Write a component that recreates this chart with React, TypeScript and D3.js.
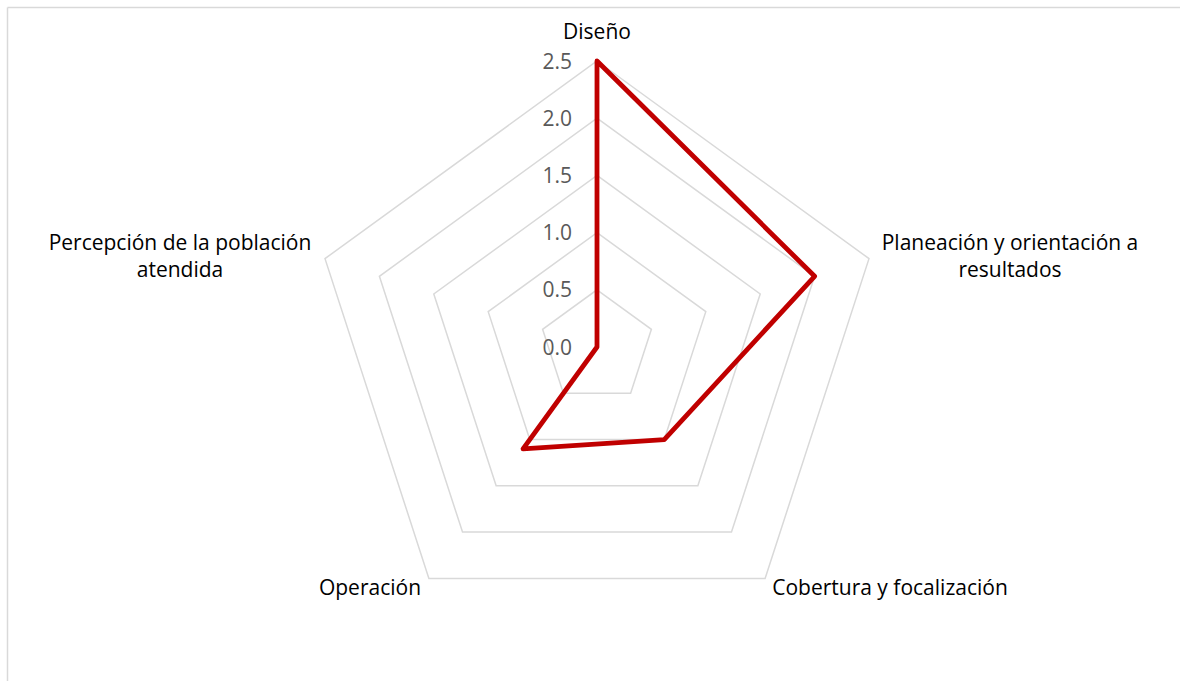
import React from "react";
import * as d3 from "d3";

const CATEGORIES = [
  ["Diseño"],
  ["Planeación y orientación a", "resultados"],
  ["Cobertura y focalización"],
  ["Operación"],
  ["Percepción de la población", "atendida"],
];
const VALUES = [2.5, 2.0, 1.0, 1.1, 0];
const TICKS = [0, 0.5, 1.0, 1.5, 2.0, 2.5];

const WIDTH = 1180;
const HEIGHT = 681;
const CX = 597;
const CY = 347;
const RADIUS = 286;
const FONT = "'Open Sans', Lato, sans-serif";

// label anchor positions (centre x, first baseline y)
const LABEL_POS: [number, number][] = [
  [597, 39],
  [1010, 250],
  [890, 595],
  [370, 595],
  [180, 250],
];

export default function App() {
  const r = d3.scaleLinear().domain([0, 2.5]).range([0, RADIUS]);
  const angle = (i: number) => -Math.PI / 2 + (i * 2 * Math.PI) / CATEGORIES.length;
  const pt = (i: number, v: number): [number, number] => [
    CX + r(v) * Math.cos(angle(i)),
    CY + r(v) * Math.sin(angle(i)),
  ];

  const closed = d3.line<[number, number]>().curve(d3.curveLinearClosed);

  const rings = TICKS.filter((t) => t > 0).map((t) =>
    closed(CATEGORIES.map((_, i) => pt(i, t)))
  );
  const series = closed(VALUES.map((v, i) => pt(i, v)));

  return (
    <svg
      width={WIDTH}
      height={HEIGHT}
      style={{ position: "absolute", left: 0, top: 0, background: "#fff" }}
    >
      <line x1={7.5} y1={7.5} x2={WIDTH} y2={7.5} stroke="#d9d9d9" strokeWidth={1.5} />
      <line x1={7.5} y1={7.5} x2={7.5} y2={HEIGHT} stroke="#d9d9d9" strokeWidth={1.5} />
      {rings.map((d, i) => (
        <path key={i} d={d ?? ""} fill="none" stroke="#d9d9d9" strokeWidth={1.5} />
      ))}
      {TICKS.map((t) => (
        <text
          key={t}
          x={CX - 25}
          y={CY - r(t)}
          dy="0.36em"
          textAnchor="end"
          fontFamily={FONT}
          fontSize={21}
          fill="#595959"
        >
          {t.toFixed(1)}
        </text>
      ))}
      <path d={series ?? ""} fill="none" stroke="#c00000" strokeWidth={4.8} strokeLinejoin="round" />
      {CATEGORIES.map((lines, i) => (
        <text
          key={i}
          x={LABEL_POS[i][0]}
          y={LABEL_POS[i][1]}
          textAnchor="middle"
          fontFamily={FONT}
          fontSize={21}
          fill="#000"
        >
          {lines.map((l, j) => (
            <tspan key={j} x={LABEL_POS[i][0]} dy={j === 0 ? 0 : 27}>
              {l}
            </tspan>
          ))}
        </text>
      ))}
    </svg>
  );
}
